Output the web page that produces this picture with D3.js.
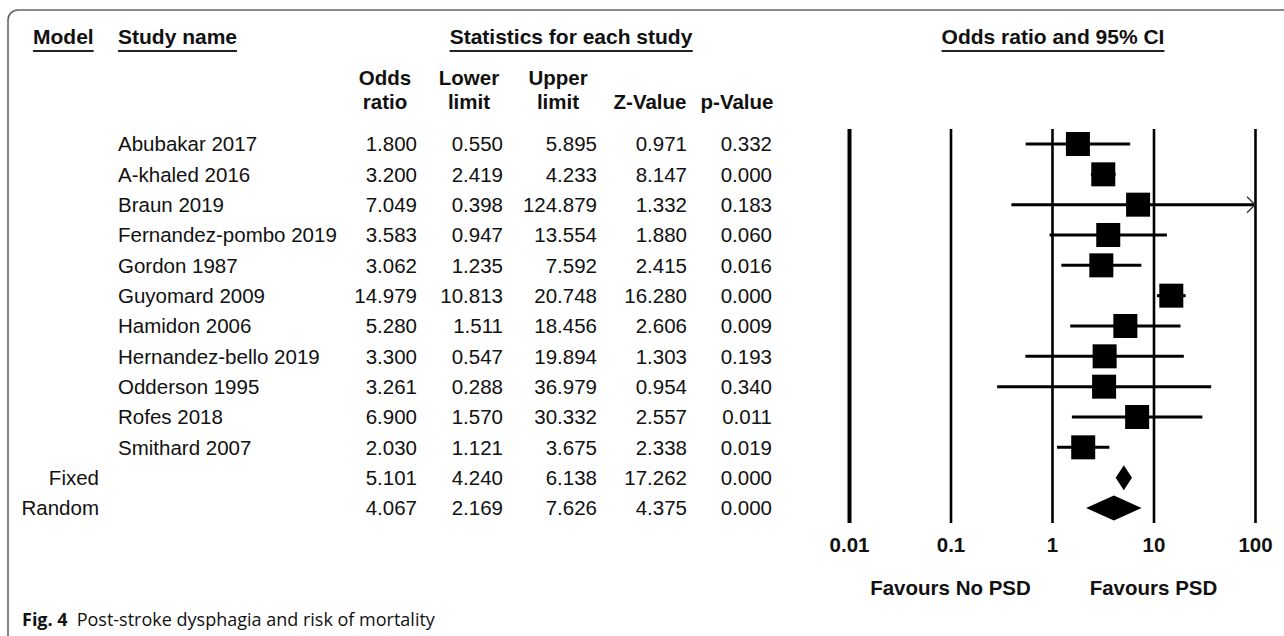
<!DOCTYPE html>
<html>
<head>
<meta charset="utf-8">
<script src="https://cdn.jsdelivr.net/npm/d3@7"></script>
<style>
  body { margin: 0; background: #fff; }
  text { font-family: "Liberation Sans", Arial, sans-serif; fill: #111; }
</style>
</head>
<body>
<svg id="paper" width="1284" height="636"></svg>
<script>
// rows of the table
const models = ["", "", "", "", "", "", "", "", "", "", "", "Fixed", "Random"];
const studies = ["Abubakar 2017", "A-khaled 2016", "Braun 2019", "Fernandez-pombo 2019",
    "Gordon 1987", "Guyomard 2009", "Hamidon 2006", "Hernandez-bello 2019",
    "Odderson 1995", "Rofes 2018", "Smithard 2007", "", ""];
const oddsRatio = [1.800, 3.200, 7.049, 3.583, 3.062, 14.979, 5.280, 3.300, 3.261, 6.900, 2.030, 5.101, 4.067];
const lowerLimit = [0.550, 2.419, 0.398, 0.947, 1.235, 10.813, 1.511, 0.547, 0.288, 1.570, 1.121, 4.240, 2.169];
const upperLimit = [5.895, 4.233, 124.879, 13.554, 7.592, 20.748, 18.456, 19.894, 36.979, 30.332, 3.675, 6.138, 7.626];
const zValue = [0.971, 8.147, 1.332, 1.880, 2.415, 16.280, 2.606, 1.303, 0.954, 2.557, 2.338, 17.262, 4.375];
const pValue = [0.332, 0.000, 0.183, 0.060, 0.016, 0.000, 0.009, 0.193, 0.340, 0.011, 0.019, 0.000, 0.000];

// axis of the forest plot
const tickValues = [0.01, 0.1, 1, 10, 100];
const tickLabels = ["0.01", "0.1", "1", "10", "100"];

var svg = d3.select("#paper");

// frame round the figure
svg.append("path")
    .attr("d", "M1284,10 H18 A10,10 0 0 0 8,20 V636")
    .attr("fill", "none")
    .attr("stroke", "#666")
    .attr("stroke-width", 1.6);

// row positions
var rows = d3.range(studies.length);
var y = d3.scalePoint()
    .domain(rows)
    .range([144, 508]);

// odds ratio scale
var x = d3.scaleLog()
    .domain([0.01, 100])
    .range([849, 1255]);

// underlined group headers
function header(label, px, anchor) {
    var t = svg.append("text")
        .attr("x", px)
        .attr("y", 37)
        .attr("dy", "0.35em")
        .attr("text-anchor", anchor)
        .style("font-size", "21px")
        .style("font-weight", "bold")
        .text(label);
    var b = t.node().getBBox();
    svg.append("line")
        .attr("x1", b.x).attr("x2", b.x + b.width)
        .attr("y1", 51).attr("y2", 51)
        .attr("stroke", "#222")
        .attr("stroke-width", 2);
}
header("Model", 33, "start");
header("Study name", 118, "start");
header("Statistics for each study", 571, "middle");
header("Odds ratio and 95% CI", 1053, "middle");

// numeric columns: header centre and right edge of the values
var columns = [
    {top: "Odds", bottom: "ratio", cx: 385, right: 417, values: oddsRatio},
    {top: "Lower", bottom: "limit", cx: 469, right: 503, values: lowerLimit},
    {top: "Upper", bottom: "limit", cx: 558, right: 597, values: upperLimit},
    {top: "", bottom: "Z-Value", cx: 650, right: 687, values: zValue},
    {top: "", bottom: "p-Value", cx: 737, right: 772, values: pValue}
];

columns.forEach(function (c) {
    [[c.top, 78], [c.bottom, 102]].forEach(function (h) {
        svg.append("text")
            .attr("x", c.cx)
            .attr("y", h[1])
            .attr("dy", "0.35em")
            .attr("text-anchor", "middle")
            .style("font-size", "20.5px")
            .style("font-weight", "bold")
            .text(h[0]);
    });
    svg.append("g").selectAll("text")
        .data(rows)
        .enter().append("text")
        .attr("x", c.right)
        .attr("y", d => y(d))
        .attr("dy", "0.35em")
        .attr("text-anchor", "end")
        .style("font-size", "20.5px")
        .text(d => d3.format(".3f")(c.values[d]));
});

// model and study names
svg.append("g").selectAll("text")
    .data(rows)
    .enter().append("text")
    .attr("x", 99)
    .attr("y", d => y(d))
    .attr("dy", "0.35em")
    .attr("text-anchor", "end")
    .style("font-size", "20.5px")
    .text(d => models[d]);

svg.append("g").selectAll("text")
    .data(rows)
    .enter().append("text")
    .attr("x", 118)
    .attr("y", d => y(d))
    .attr("dy", "0.35em")
    .style("font-size", "20.5px")
    .text(d => studies[d]);

// vertical reference lines and tick labels
var axisTop = 129, axisBottom = 523;
var axis = svg.append("g")
    .attr("transform", "translate(0," + axisBottom + ")")
    .call(d3.axisBottom(x)
        .tickValues(tickValues)
        .tickFormat((d, i) => tickLabels[i])
        .tickSizeInner(-(axisBottom - axisTop))
        .tickSizeOuter(0));
axis.select(".domain").remove();
axis.selectAll(".tick line")
    .attr("stroke", "#000")
    .attr("stroke-width", (d, i) => i === 0 ? 4 : 2.6);
axis.selectAll(".tick text")
    .attr("y", 22)
    .attr("dy", "0.35em")
    .attr("fill", "#111")
    .style("font-family", "'Liberation Sans', Arial, sans-serif")
    .style("font-size", "20.5px")
    .style("font-weight", "bold");

// favours labels
svg.append("text")
    .attr("x", x(0.1)).attr("y", 588).attr("dy", "0.35em")
    .attr("text-anchor", "middle")
    .style("font-size", "20.5px").style("font-weight", "bold")
    .text("Favours No PSD");
svg.append("text")
    .attr("x", x(10)).attr("y", 588).attr("dy", "0.35em")
    .attr("text-anchor", "middle")
    .style("font-size", "20.5px").style("font-weight", "bold")
    .text("Favours PSD");

var xmin = x.domain()[0], xmax = x.domain()[1];
var studyRows = rows.filter(d => studies[d] !== "");
var pooledRows = rows.filter(d => studies[d] === "");

// confidence interval whiskers
var forest = svg.append("g");
forest.selectAll(".ci")
    .data(studyRows)
    .enter().append("line")
    .attr("class", "ci")
    .attr("x1", d => x(Math.max(lowerLimit[d], xmin)))
    .attr("x2", d => x(Math.min(upperLimit[d], xmax)))
    .attr("y1", d => y(d))
    .attr("y2", d => y(d))
    .attr("stroke", "#000")
    .attr("stroke-width", 3);

// open arrow where the interval runs past the axis
forest.selectAll(".arrow")
    .data(studyRows.filter(d => upperLimit[d] > xmax))
    .enter().append("path")
    .attr("class", "arrow")
    .attr("d", d => "M" + (x(xmax) - 8) + "," + (y(d) - 8) +
        " L" + x(xmax) + "," + y(d) +
        " L" + (x(xmax) - 8) + "," + (y(d) + 8))
    .attr("fill", "none")
    .attr("stroke", "#333")
    .attr("stroke-width", 1.3);

// study squares
var box = 24;
forest.selectAll(".box")
    .data(studyRows)
    .enter().append("rect")
    .attr("class", "box")
    .attr("x", d => x(oddsRatio[d]) - box / 2)
    .attr("y", d => y(d) - box / 2)
    .attr("width", box)
    .attr("height", box)
    .attr("fill", "#000");

// pooled diamonds
forest.selectAll(".diamond")
    .data(pooledRows)
    .enter().append("path")
    .attr("class", "diamond")
    .attr("d", d => "M" + x(lowerLimit[d]) + "," + y(d) +
        " L" + x(oddsRatio[d]) + "," + (y(d) - 12.5) +
        " L" + x(upperLimit[d]) + "," + y(d) +
        " L" + x(oddsRatio[d]) + "," + (y(d) + 12.5) + " Z")
    .attr("fill", "#000");

// caption
var caption = svg.append("text")
    .attr("x", 22)
    .attr("y", 620)
    .attr("dy", "0.35em")
    .style("font-family", "'Open Sans', 'Noto Sans', sans-serif")
    .style("font-size", "18px");
caption.append("tspan").style("font-weight", "bold").text("Fig. 4");
caption.append("tspan").attr("dx", 9).text("Post-stroke dysphagia and risk of mortality");
</script>
</body>
</html>
